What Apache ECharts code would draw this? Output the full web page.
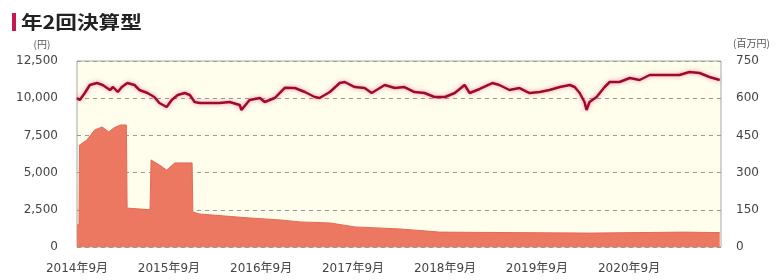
<!DOCTYPE html>
<html lang="ja">
<head>
    <meta charset="UTF-8">
    <title>年2回決算型</title>
    <script src="https://cdn.jsdelivr.net/npm/echarts@6/dist/echarts.min.js"></script>
    <style>
        html, body { margin: 0; padding: 0; background: #fff; }
        #chart { width: 784px; height: 280px; }
    </style>
</head>
<body>
    <div id="chart"></div>
    <script type="text/javascript">

        // 基準価額（円）
        var navDates = [
            '2014-09-01','2014-09-12','2014-10-02','2014-10-22','2014-11-19','2014-12-12',
            '2015-01-10','2015-01-22','2015-02-10','2015-02-26','2015-03-20','2015-04-17',
            '2015-05-07','2015-06-08','2015-07-05','2015-07-25','2015-08-23','2015-09-12',
            '2015-10-06','2015-11-03','2015-11-23','2015-12-12','2016-01-02','2016-02-11',
            '2016-03-20','2016-04-29','2016-06-08','2016-06-15','2016-07-17','2016-08-27',
            '2016-09-15','2016-10-25','2016-12-04','2017-01-13','2017-02-22','2017-04-02',
            '2017-04-21','2017-06-01','2017-07-10','2017-07-30','2017-09-08','2017-10-17',
            '2017-11-14','2018-01-05','2018-02-14','2018-03-24','2018-05-03','2018-06-12',
            '2018-07-21','2018-09-01','2018-10-10','2018-11-18','2018-12-08','2019-01-17',
            '2019-03-08','2019-04-05','2019-05-15','2019-06-24','2019-08-03','2019-09-12',
            '2019-10-21','2019-12-01','2020-01-10','2020-01-29','2020-02-18','2020-03-08',
            '2020-03-16','2020-03-28','2020-04-25','2020-05-27','2020-06-16','2020-07-25',
            '2020-09-04','2020-10-13','2020-11-22','2021-01-01','2021-02-10','2021-03-20',
            '2021-04-29','2021-06-08','2021-07-17','2021-08-27'
        ];
        var navValues = [
            10013, 9879,10349,10887,11021,10887,
            10551,10752,10416,10752,11021,10887,
            10551,10349,10080, 9677, 9408, 9879,
            10215,10349,10215, 9744, 9677, 9677,
             9677, 9744, 9543, 9207, 9879,10013,
             9744,10013,10700,10685,10416,10080,
            10013,10416,11021,11089,10752,10685,
            10349,10887,10685,10752,10416,10349,
            10080,10080,10349,10887,10349,10620,
            11021,10887,10551,10685,10349,10416,
            10551,10752,10887,10752,10349, 9744,
             9207, 9744,10080,10752,11089,11089,
            11358,11223,11559,11559,11559,11559,
            11760,11694,11425,11223
        ];

        // 純資産総額（百万円）
        var assetDates = [
            '2014-09-01','2014-09-09','2014-09-11','2014-10-10','2014-11-10','2014-12-10',
            '2015-01-05','2015-01-25','2015-02-20','2015-03-16','2015-03-19','2015-06-18',
            '2015-06-22','2015-07-25','2015-08-23','2015-09-24','2015-11-03','2015-12-02',
            '2015-12-05','2016-01-02','2016-07-17','2016-11-15','2017-02-03','2017-06-01',
            '2017-09-08','2018-03-05','2018-08-11','2019-06-01','2020-04-01','2021-04-01',
            '2021-08-27'
        ];
        var assetValues = [
             89,  89, 411, 431, 472, 484,
            464, 480, 492, 492, 157, 150,
            351, 331, 310, 339, 339, 339,
            141, 133, 117, 109, 101,  97,
             81,  73,  60,  58,  56,  60,
             58
        ];

        // 目盛りラベル
        var xTickDates = ['2014-09-01','2015-09-01','2016-09-01','2017-09-01','2018-09-01','2019-09-01','2020-09-01'];
        var xStart = '2014-09-01';
        var xEnd = '2021-09-01';

        var chart = echarts.init(document.getElementById('chart'));

        function toTime(s) {
            var p = s.split('-');
            return Date.UTC(+p[0], +p[1] - 1, +p[2]);
        }
        function pairs(dates, values) {
            var out = [];
            for (var i = 0; i < dates.length; i++) {
                out.push([toTime(dates[i]), values[i]]);
            }
            return out;
        }

        var labelFont = '"DejaVu Sans", "Noto Sans CJK JP", sans-serif';

        chart.setOption({
            animation: false,
            backgroundColor: '#ffffff',
            grid: {
                left: 77,
                right: 63,
                top: 61,
                bottom: 33,
                show: true,
                backgroundColor: '#fffdec',
                borderColor: '#a8a8a8',
                borderWidth: 1
            },
            graphic: [
                { type: 'rect', left: 12, top: 13, shape: { width: 4, height: 18 }, style: { fill: '#c8174f' } },
                { type: 'text', x: 21, y: 13, scaleX: 1.2,
                  style: { text: '年2回決算型', fill: '#222', font: 'bold 18px "Noto Sans CJK JP", sans-serif' } },
                { type: 'text', x: 42, y: 44,
                  style: { text: '(円)', fill: '#555', align: 'center', verticalAlign: 'middle', font: '10px "Noto Sans CJK JP", sans-serif' } },
                { type: 'text', x: 733, y: 43,
                  style: { text: '(百万円)', fill: '#555', align: 'left', verticalAlign: 'middle', font: '10px "Noto Sans CJK JP", sans-serif' } }
            ],
            xAxis: {
                type: 'value',
                min: toTime(xStart),
                max: toTime(xEnd),
                axisLine: { show: false },
                splitLine: { show: false },
                axisTick: {
                    show: true,
                    inside: true,
                    length: 3,
                    customValues: xTickDates.map(toTime),
                    lineStyle: { color: 'rgba(0,0,0,0.15)' }
                },
                axisLabel: {
                    customValues: xTickDates.map(toTime),
                    color: '#444',
                    fontSize: 12,
                    fontFamily: labelFont,
                    margin: 16,
                    hideOverlap: false,
                    formatter: function (v) {
                        var d = new Date(v);
                        return d.getUTCFullYear() + '年' + (d.getUTCMonth() + 1) + '月';
                    }
                }
            },
            yAxis: [{
                type: 'value',
                min: 0,
                max: 12500,
                interval: 2500,
                axisLine: { show: false },
                axisTick: { show: false },
                axisLabel: {
                    color: '#444',
                    fontSize: 12,
                    fontFamily: labelFont,
                    margin: 19,
                    formatter: function (v) { return v.toLocaleString('en-US'); }
                },
                splitLine: {
                    show: true,
                    lineStyle: { color: '#999', type: [4, 4], width: 1 }
                }
            }, {
                type: 'value',
                min: 0,
                max: 750,
                interval: 150,
                position: 'right',
                axisLine: { show: false },
                axisTick: { show: false },
                splitLine: { show: false },
                axisLabel: {
                    color: '#444',
                    fontSize: 12,
                    fontFamily: labelFont,
                    margin: 15
                }
            }],
            series: [{
                name: '純資産総額',
                type: 'line',
                yAxisIndex: 1,
                data: pairs(assetDates, assetValues),
                symbol: 'none',
                smooth: false,
                lineStyle: { color: '#e56a55', width: 1 },
                areaStyle: { color: '#ec7862', opacity: 1 },
                z: 2
            }, {
                name: '基準価額',
                type: 'line',
                yAxisIndex: 0,
                data: pairs(navDates, navValues),
                symbol: 'none',
                smooth: false,
                lineStyle: {
                    color: '#9c0a30',
                    width: 2.5,
                    shadowColor: 'rgba(235,70,110,0.6)',
                    shadowBlur: 4
                },
                z: 3
            }]
        });

    </script>
</body>
</html>
